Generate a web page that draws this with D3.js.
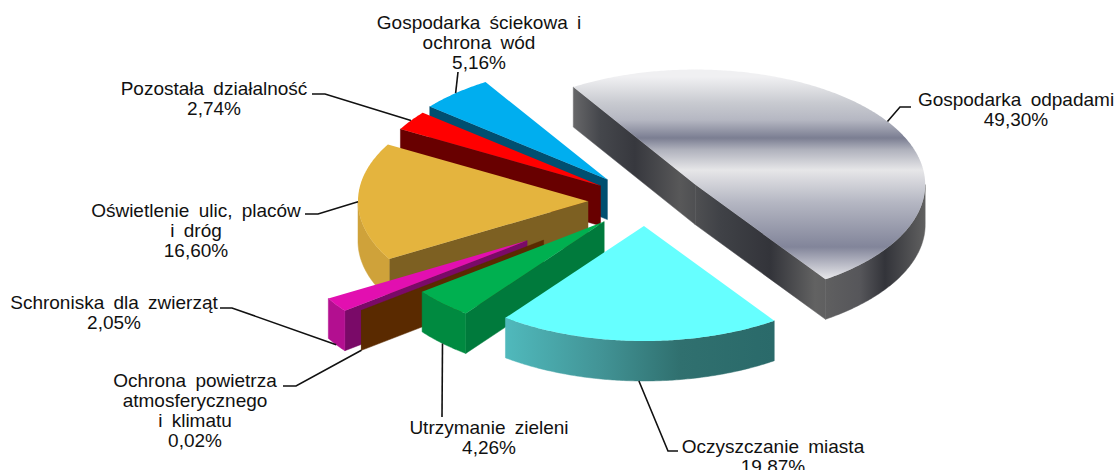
<!DOCTYPE html>
<html>
<head>
<meta charset="utf-8">
<script src="https://cdn.jsdelivr.net/npm/d3@7"></script>
<style>
	html, body { margin: 0; background: #fff; overflow: hidden; }
	text { font-family: "Liberation Sans", Arial, sans-serif; font-size: 19px; word-spacing: 4px; fill: #111; }
</style>
</head>
<body>
<div id="chart"></div>
<script>
// Values
const categories = ["Gospodarka odpadami", "Oczyszczanie miasta", "Utrzymanie zieleni",
	"Ochrona powietrza", "Schroniska dla zwierząt", "Oświetlenie ulic", "Pozostała działalność", "Gospodarka ściekowa"];
const shares = [49.30, 19.87, 4.26, 0.02, 2.05, 16.60, 2.74, 5.16];
const shareLabels = ["49,30%", "19,87%", "4,26%", "0,02%", "2,05%", "16,60%", "2,74%", "5,16%"];
const labelLines = [
	["Gospodarka odpadami"],
	["Oczyszczanie miasta"],
	["Utrzymanie zieleni"],
	["Ochrona powietrza", "atmosferycznego", "i klimatu"],
	["Schroniska dla zwierząt"],
	["Oświetlenie ulic, placów", "i dróg"],
	["Pozostała działalność"],
	["Gospodarka ściekowa i", "ochrona wód"]
];

// Layout and styles
const width = 1119, height = 470;
const cx = 645, cy = 201, rx = 230, ry = 115, depth = 40;
const startDeg = -32;
const explode = [60, 50, 58, 128, 142, 57, 54, 57];
const drawOrder = [0, 7, 6, 5, 4, 3, 2, 1]; // back to front
const topColors = ["url(#greyTop)", "#66ffff", "#00b050", "#7a3c00", "#e20fb0", "#e4b43e", "#ff0000", "#00aeef"];
const arcColors = ["url(#greyWall)", "url(#cyanWall)", "#008a40", "#5a2a00", "#b30f90", "#cfa23a", "#7d0000", "#005b7d"];
const edgeColors = ["url(#greyWall)", "#2a6a6a", "#007a3c", "#5a2a00", "#7a0a68", "#7d6022", "#680000", "#004f70"];
// label centre and first baseline, leader elbow and end
const labelPos = [[1016, 106], [773, 453], [489, 434], [195, 387], [114, 309], [196, 217], [214, 95], [479, 29]];
const leaderEnds = [
	[[900, 107], [911, 107]], [[668, 451], [678, 451]], [[442, 417], [442, 417]], [[296, 386], [283, 386]],
	[[232, 308], [220, 308]], [[318, 214], [305, 214]], [[325, 94], [312, 94]], [[458, 72], [458, 72]]
];
const greyTopStops = [[77, "#f0f0f2"], [103, "#c8cad0"], [120, "#b5b7c2"], [138, "#7b7e92"], [150, "#b0b2bd"],
	[170, "#e6e6e8"], [203, "#b4b6c2"], [247, "#82859a"], [277, "#e2e2e6"]];
const greyWallStops = [[574, "#666668"], [600, "#45474c"], [635, "#37383e"], [680, "#585859"], [720, "#404247"],
	[770, "#33343a"], [815, "#626262"], [860, "#56565a"], [885, "#33343a"], [925, "#606060"]];
const cyanWallStops = [[503, "#50babd"], [600, "#429496"], [680, "#30706f"], [773, "#2a6a6a"]];

const svg = d3.select("#chart").append("svg")
	.attr("width", width).attr("height", height);

function addGradient(id, stops, vertical) {
	let extent = d3.extent(stops, (d) => d[0]);
	let grad = svg.append("defs").append("linearGradient")
		.attr("id", id).attr("gradientUnits", "userSpaceOnUse");
	if (vertical) grad.attr("x1", 0).attr("x2", 0).attr("y1", extent[0]).attr("y2", extent[1]);
	else grad.attr("y1", 0).attr("y2", 0).attr("x1", extent[0]).attr("x2", extent[1]);
	grad.selectAll("stop").data(stops).join("stop")
		.attr("offset", (d) => (d[0] - extent[0]) / (extent[1] - extent[0]))
		.attr("stop-color", (d) => d[1]);
}
addGradient("greyTop", greyTopStops, true);
addGradient("greyWall", greyWallStops, false);
addGradient("cyanWall", cyanWallStops, false);

const start = startDeg * Math.PI / 180;
const slices = d3.pie().sort(null).startAngle(start).endAngle(start + 2 * Math.PI)(shares);
const line = d3.line();

// apex of a slice once it has been pulled out along its mid angle
function apexOf(s, i) {
	let mid = (s.startAngle + s.endAngle) / 2;
	return [cx + explode[i] * Math.sin(mid), cy - explode[i] * Math.cos(mid) * ry / rx];
}

function rimPoint(apex, a, drop = 0) {
	return [apex[0] + rx * Math.sin(a), apex[1] - ry * Math.cos(a) + drop];
}

function topFace(apex, a0, a1) {
	let angles = d3.range(a0, a1, 0.01).concat(a1);
	return line([apex].concat(angles.map((a) => rimPoint(apex, a)))) + "Z";
}

function radialWall(apex, a) {
	return line([apex, rimPoint(apex, a), rimPoint(apex, a, depth), [apex[0], apex[1] + depth]]) + "Z";
}

// the part of the outer wall that faces the viewer
function outerWall(apex, a0, a1) {
	let lo = Math.max(a0, Math.PI / 2), hi = Math.min(a1, 3 * Math.PI / 2);
	if (lo >= hi) return null;
	let angles = d3.range(lo, hi, 0.01).concat(hi);
	return line(angles.map((a) => rimPoint(apex, a)).concat(angles.slice().reverse().map((a) => rimPoint(apex, a, depth)))) + "Z";
}

function addWall(g, d, color) {
	g.append("path").attr("d", d).attr("fill", color).attr("stroke", color).attr("stroke-width", 0.5);
}

const pie = svg.append("g");
drawOrder.forEach((i) => {
	let s = slices[i], apex = apexOf(s, i), g = pie.append("g");
	if (Math.sin(s.startAngle) < 0) addWall(g, radialWall(apex, s.startAngle), edgeColors[i]);
	if (Math.sin(s.endAngle) > 0) addWall(g, radialWall(apex, s.endAngle), edgeColors[i]);
	let wall = outerWall(apex, s.startAngle, s.endAngle);
	if (wall) addWall(g, wall, arcColors[i]);
	g.append("path").attr("d", topFace(apex, s.startAngle, s.endAngle)).attr("fill", topColors[i]);
});

// Leaders start on the rim at the mid angle of each slice
slices.forEach((s, i) => {
	let mid = (s.startAngle + s.endAngle) / 2;
	let anchor = rimPoint(apexOf(s, i), mid, Math.cos(mid) < -0.1 ? depth : 0);
	svg.append("path")
		.attr("d", line([anchor].concat(leaderEnds[i])))
		.attr("fill", "none").attr("stroke", "#111").attr("stroke-width", 1.6);
});

// Labels
categories.forEach((c, i) => {
	let lines = labelLines[i].concat(shareLabels[i]);
	let text = svg.append("text").attr("text-anchor", "middle");
	text.selectAll("tspan").data(lines).join("tspan")
		.attr("x", labelPos[i][0])
		.attr("y", (d, k) => labelPos[i][1] + k * 20)
		.text((d) => d);
});
</script>
</body>
</html>
